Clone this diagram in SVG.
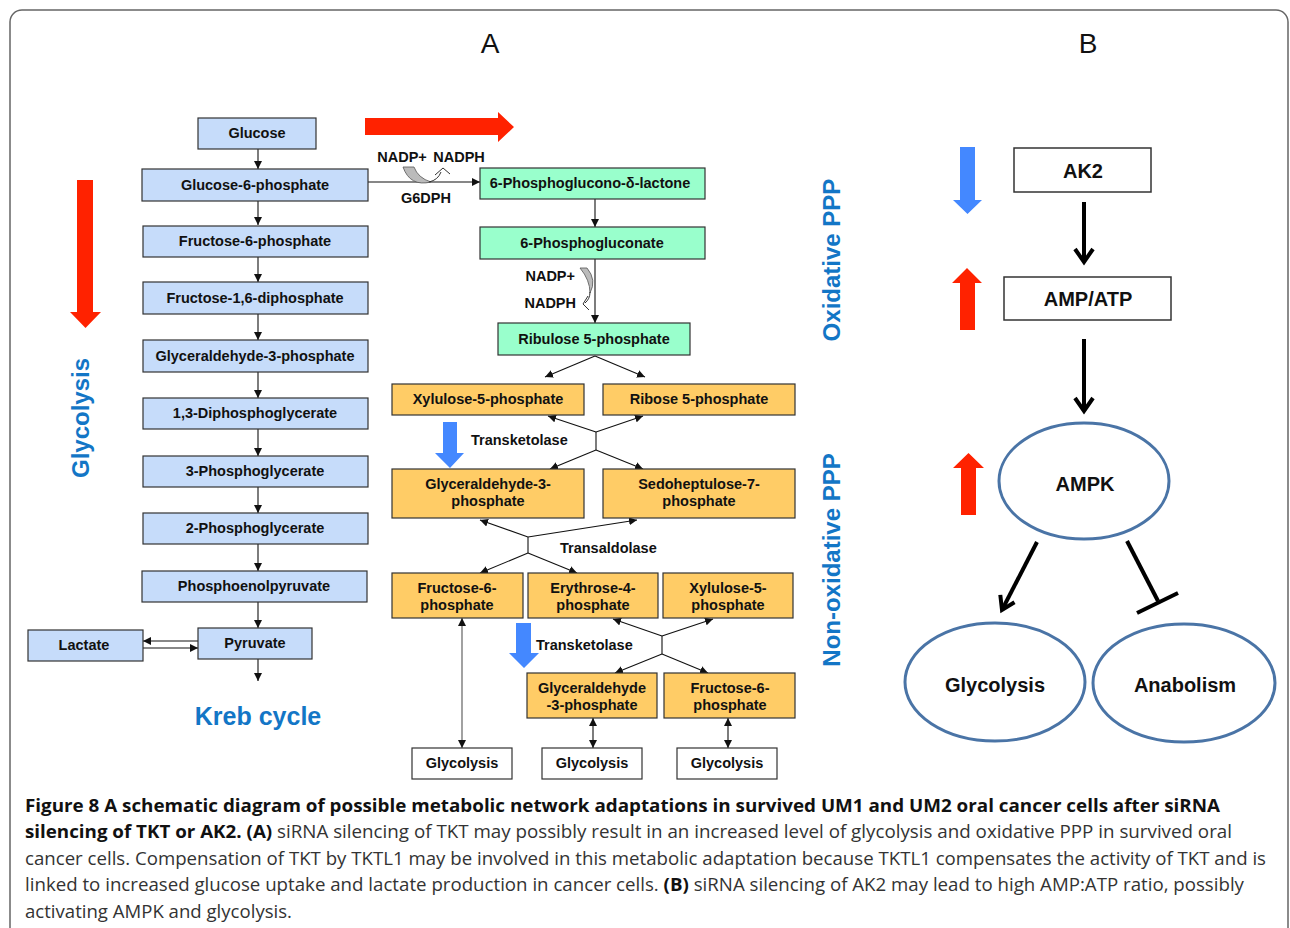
<svg xmlns="http://www.w3.org/2000/svg" width="1290" height="928" viewBox="0 0 1290 928">
<defs>
<style>
.t{font-family:"Liberation Sans",Arial,sans-serif;font-weight:bold;font-size:14.5px;fill:#111;text-anchor:middle}
.tl{font-family:"Liberation Sans",Arial,sans-serif;font-weight:bold;font-size:14.5px;fill:#111}
.bl{fill:#C6DCFA;stroke:#333;stroke-width:1.2}
.gr{fill:#99FFCC;stroke:#333;stroke-width:1.2}
.or{fill:#FFCC66;stroke:#333;stroke-width:1.2}
.wh{fill:#fff;stroke:#333;stroke-width:1.2}
.ln{stroke:#111;stroke-width:1.1;fill:none}
.big{font-family:"Liberation Sans",Arial,sans-serif;font-weight:bold;font-size:24px;fill:#1376C6;text-anchor:middle}
.bt{font-family:"Liberation Sans",Arial,sans-serif;font-weight:bold;font-size:20px;fill:#111;text-anchor:middle}
.thick{stroke:#000;stroke-width:4;fill:none}
.ell{fill:#fff;stroke:#4A74A6;stroke-width:3}
.cap{font-family:"Open Sans","Liberation Sans",sans-serif;font-size:18px;fill:#333}
.cb{font-weight:bold;fill:#111}
.hd{font-family:"Liberation Sans",Arial,sans-serif;font-size:28px;fill:#111;text-anchor:middle}
</style>
<marker id="ah" viewBox="0 0 10 10" refX="10" refY="5" markerWidth="8" markerHeight="8" markerUnits="userSpaceOnUse" orient="auto-start-reverse">
<path d="M0,0 L10,5 L0,10 z" fill="#111"/>
</marker>
</defs>
<rect x="10" y="10" width="1278" height="940" rx="12" fill="#fff" stroke="#666" stroke-width="1.5"/>
<text class="hd" x="490" y="53">A</text>
<text class="hd" x="1088" y="53">B</text>

<!-- big colored arrows -->
<path d="M77,180 H93 V312 H101 L85.5,328 L70,312 H77 Z" fill="#FF2200"/>
<path d="M365,118 H498 V112 L514,127 L498,142 V135 H365 Z" fill="#FF2200"/>
<path d="M443,422 H457 V453 H464 L450,468 L435,453 H443 Z" fill="#4488FF"/>
<path d="M516,623 H531 V653 H539 L524,668 L509,653 H516 Z" fill="#4488FF"/>
<path d="M960,147 H975 V200 H982 L967.5,214 L953,200 H960 Z" fill="#4488FF"/>
<path d="M960,330 H975 V283 H982 L967,268 L952,283 H960 Z" fill="#FF2200"/>
<path d="M961,515 H976 V468 H984 L968.5,453 L953,468 H961 Z" fill="#FF2200"/>

<text class="big" transform="translate(89,418) rotate(-90)">Glycolysis</text>
<text class="big" transform="translate(840,260) rotate(-90)">Oxidative PPP</text>
<text class="big" transform="translate(840,560) rotate(-90)">Non-oxidative PPP</text>
<text class="big" x="258" y="725" style="font-size:25px">Kreb cycle</text>

<!-- connectors -->
<g id="connectors">
<path class="ln" marker-end="url(#ah)" d="M258,149 V169"/>
<path class="ln" marker-end="url(#ah)" d="M258,201 V225"/>
<path class="ln" marker-end="url(#ah)" d="M258,257 V282"/>
<path class="ln" marker-end="url(#ah)" d="M258,314 V340"/>
<path class="ln" marker-end="url(#ah)" d="M258,372 V398"/>
<path class="ln" marker-end="url(#ah)" d="M258,429 V456"/>
<path class="ln" marker-end="url(#ah)" d="M258,487 V513"/>
<path class="ln" marker-end="url(#ah)" d="M258,544 V571"/>
<path class="ln" marker-end="url(#ah)" d="M258,602 V628"/>
<path class="ln" marker-end="url(#ah)" d="M258,659 V681"/>
<path class="ln" marker-end="url(#ah)" d="M198,641 H143"/>
<path class="ln" marker-end="url(#ah)" d="M143,648 H198"/>
<path class="ln" marker-end="url(#ah)" d="M368,182 H480"/>
<path class="ln" marker-end="url(#ah)" d="M595,199 V227"/>
<path class="ln" marker-end="url(#ah)" d="M595,259 V323"/>
<path class="ln" marker-end="url(#ah)" d="M595,356 L545,377"/>
<path class="ln" marker-end="url(#ah)" d="M595,356 L645,377"/>
<path class="ln" marker-end="url(#ah)" d="M596,432 L548,416"/>
<path class="ln" marker-end="url(#ah)" d="M596,432 L643,416"/>
<path class="ln" d="M596,432 V450"/>
<path class="ln" marker-end="url(#ah)" d="M596,450 L550,469"/>
<path class="ln" marker-end="url(#ah)" d="M596,450 L643,469"/>
<path class="ln" marker-end="url(#ah)" d="M528,537 L480,520"/>
<path class="ln" marker-end="url(#ah)" d="M528,537 L637,520"/>
<path class="ln" d="M528,537 V553"/>
<path class="ln" marker-end="url(#ah)" d="M528,553 L480,573"/>
<path class="ln" marker-end="url(#ah)" d="M528,553 L577,573"/>
<path class="ln" marker-end="url(#ah)" d="M662,636 L613,619"/>
<path class="ln" marker-end="url(#ah)" d="M662,636 L713,619"/>
<path class="ln" d="M662,636 V654"/>
<path class="ln" marker-end="url(#ah)" d="M662,654 L615,673"/>
<path class="ln" marker-end="url(#ah)" d="M662,654 L708,673"/>
<path class="ln" marker-start="url(#ah)" marker-end="url(#ah)" d="M462,618 V748" style="stroke:#555"/>
<path class="ln" marker-start="url(#ah)" marker-end="url(#ah)" d="M593,718 V748"/>
<path class="ln" marker-start="url(#ah)" marker-end="url(#ah)" d="M728,718 V748"/>
<!-- cofactor curved arrows -->
<path d="M403,167 L414,167 Q418,178 431,182 Q410,187 403,167 Z" fill="#BBBBBB" stroke="#555" stroke-width="0.8"/>
<path d="M429,182 Q438,180 441,172" fill="none" stroke="#333" stroke-width="1"/>
<path d="M435,175 L443,168 L450,174" fill="none" stroke="#333" stroke-width="1"/>
<path d="M580,268 L587,268 Q597,280 590,293 Q590,280 580,268 Z" fill="#BBBBBB" stroke="#555" stroke-width="0.8"/>
<path d="M590,292 Q590,299 585,303" fill="none" stroke="#333" stroke-width="1"/>
<path d="M588,296 L583,304 L589,310" fill="none" stroke="#333" stroke-width="1"/>
<!-- panel B -->
<path class="thick" d="M1084,202 V261"/>
<path class="thick" d="M1075,249 L1084,262 L1093,249"/>
<path class="thick" d="M1084,339 V410"/>
<path class="thick" d="M1075,398 L1084,411 L1093,398"/>
<path class="thick" d="M1037,542 L1003,608"/>
<path class="thick" d="M1014.5,602.3 L1002,610 L1000.3,594.9"/>
<path class="thick" d="M1127,541 L1158,601"/>
<path class="thick" d="M1137,613 L1178,593"/>
</g>

<text class="tl" x="402" y="162" text-anchor="middle">NADP+</text>
<text class="tl" x="459" y="162" text-anchor="middle">NADPH</text>
<text class="tl" x="426" y="203" text-anchor="middle">G6DPH</text>
<text class="tl" x="575" y="281" text-anchor="end">NADP+</text>
<text class="tl" x="576" y="308" text-anchor="end">NADPH</text>
<text class="tl" x="471" y="445">Transketolase</text>
<text class="tl" x="560" y="553">Transaldolase</text>
<text class="tl" x="536" y="650">Transketolase</text>

<!-- glycolysis nodes -->
<g id="glucose"><rect class="bl" x="198" y="118" width="118" height="31"/><text class="t" x="257" y="138">Glucose</text></g>
<g id="g6p"><rect class="bl" x="142" y="169" width="226" height="32"/><text class="t" x="255" y="190">Glucose-6-phosphate</text></g>
<g id="f6p"><rect class="bl" x="143" y="226" width="225" height="31"/><text class="t" x="255" y="246">Fructose-6-phosphate</text></g>
<g id="f16dp"><rect class="bl" x="143" y="282" width="225" height="32"/><text class="t" x="255" y="303">Fructose-1,6-diphosphate</text></g>
<g id="g3p"><rect class="bl" x="143" y="340" width="225" height="32"/><text class="t" x="255" y="361">Glyceraldehyde-3-phosphate</text></g>
<g id="dpg"><rect class="bl" x="143" y="398" width="225" height="31"/><text class="t" x="255" y="418">1,3-Diphosphoglycerate</text></g>
<g id="pg3"><rect class="bl" x="143" y="456" width="225" height="31"/><text class="t" x="255" y="476">3-Phosphoglycerate</text></g>
<g id="pg2"><rect class="bl" x="143" y="513" width="225" height="31"/><text class="t" x="255" y="533">2-Phosphoglycerate</text></g>
<g id="pep"><rect class="bl" x="142" y="571" width="225" height="31"/><text class="t" x="254" y="591">Phosphoenolpyruvate</text></g>
<g id="pyruvate"><rect class="bl" x="198" y="628" width="114" height="31"/><text class="t" x="255" y="648">Pyruvate</text></g>
<g id="lactate"><rect class="bl" x="28" y="630" width="115" height="31"/><text class="t" x="84" y="650">Lactate</text></g>

<!-- oxidative PPP -->
<g id="pgl"><rect class="gr" x="480" y="168" width="225" height="31"/><text class="t" x="590" y="188">6-Phosphoglucono-δ-lactone</text></g>
<g id="pgn"><rect class="gr" x="480" y="227" width="225" height="32"/><text class="t" x="592" y="248">6-Phosphogluconate</text></g>
<g id="ru5p"><rect class="gr" x="498" y="323" width="192" height="32"/><text class="t" x="594" y="344">Ribulose 5-phosphate</text></g>

<!-- non-oxidative PPP -->
<g id="xu5p"><rect class="or" x="392" y="384" width="192" height="31"/><text class="t" x="488" y="404">Xylulose-5-phosphate</text></g>
<g id="r5p"><rect class="or" x="603" y="384" width="192" height="31"/><text class="t" x="699" y="404">Ribose 5-phosphate</text></g>
<g id="ga3p2"><rect class="or" x="392" y="469" width="192" height="49"/><text class="t" x="488" y="489">Glyceraldehyde-3-</text><text class="t" x="488" y="506">phosphate</text></g>
<g id="s7p"><rect class="or" x="603" y="469" width="192" height="49"/><text class="t" x="699" y="489">Sedoheptulose-7-</text><text class="t" x="699" y="506">phosphate</text></g>
<g id="f6p2"><rect class="or" x="392" y="573" width="131" height="45"/><text class="t" x="457" y="593">Fructose-6-</text><text class="t" x="457" y="610">phosphate</text></g>
<g id="e4p"><rect class="or" x="528" y="573" width="130" height="45"/><text class="t" x="593" y="593">Erythrose-4-</text><text class="t" x="593" y="610">phosphate</text></g>
<g id="xu5p2"><rect class="or" x="663" y="573" width="130" height="45"/><text class="t" x="728" y="593">Xylulose-5-</text><text class="t" x="728" y="610">phosphate</text></g>
<g id="ga3p3"><rect class="or" x="527" y="673" width="130" height="45"/><text class="t" x="592" y="693">Glyceraldehyde</text><text class="t" x="592" y="710">-3-phosphate</text></g>
<g id="f6p3"><rect class="or" x="664" y="673" width="131" height="45"/><text class="t" x="730" y="693">Fructose-6-</text><text class="t" x="730" y="710">phosphate</text></g>
<g id="gly1"><rect class="wh" x="412" y="748" width="100" height="31"/><text class="t" x="462" y="768">Glycolysis</text></g>
<g id="gly2"><rect class="wh" x="542" y="748" width="100" height="31"/><text class="t" x="592" y="768">Glycolysis</text></g>
<g id="gly3"><rect class="wh" x="677" y="748" width="100" height="31"/><text class="t" x="727" y="768">Glycolysis</text></g>

<!-- panel B -->
<g id="ak2"><rect class="wh" x="1014" y="148" width="137" height="44" style="stroke-width:1.5"/><text class="bt" x="1083" y="178">AK2</text></g>
<g id="ampatp"><rect class="wh" x="1004" y="277" width="167" height="43" style="stroke-width:1.5"/><text class="bt" x="1088" y="306">AMP/ATP</text></g>
<g id="ampk"><ellipse class="ell" cx="1084" cy="481" rx="85" ry="58"/><text class="bt" x="1085" y="491">AMPK</text></g>
<g id="glycB"><ellipse class="ell" cx="995" cy="682" rx="90" ry="59"/><text class="bt" x="995" y="692">Glycolysis</text></g>
<g id="anab"><ellipse class="ell" cx="1184" cy="683" rx="91" ry="59"/><text class="bt" x="1185" y="692">Anabolism</text></g>

<!-- caption -->
<text class="cap cb" x="25" y="812" textLength="1195" lengthAdjust="spacingAndGlyphs">Figure 8 A schematic diagram of possible metabolic network adaptations in survived UM1 and UM2 oral cancer cells after siRNA</text>
<text class="cap" x="25" y="838" textLength="1207" lengthAdjust="spacingAndGlyphs"><tspan class="cb">silencing of TKT or AK2. (A)</tspan> siRNA silencing of TKT may possibly result in an increased level of glycolysis and oxidative PPP in survived oral</text>
<text class="cap" x="25" y="865" textLength="1241" lengthAdjust="spacingAndGlyphs">cancer cells. Compensation of TKT by TKTL1 may be involved in this metabolic adaptation because TKTL1 compensates the activity of TKT and is</text>
<text class="cap" x="25" y="891" textLength="1219" lengthAdjust="spacingAndGlyphs">linked to increased glucose uptake and lactate production in cancer cells. <tspan class="cb">(B)</tspan> siRNA silencing of AK2 may lead to high AMP:ATP ratio, possibly</text>
<text class="cap" x="25" y="918" textLength="267" lengthAdjust="spacingAndGlyphs">activating AMPK and glycolysis.</text>
</svg>
